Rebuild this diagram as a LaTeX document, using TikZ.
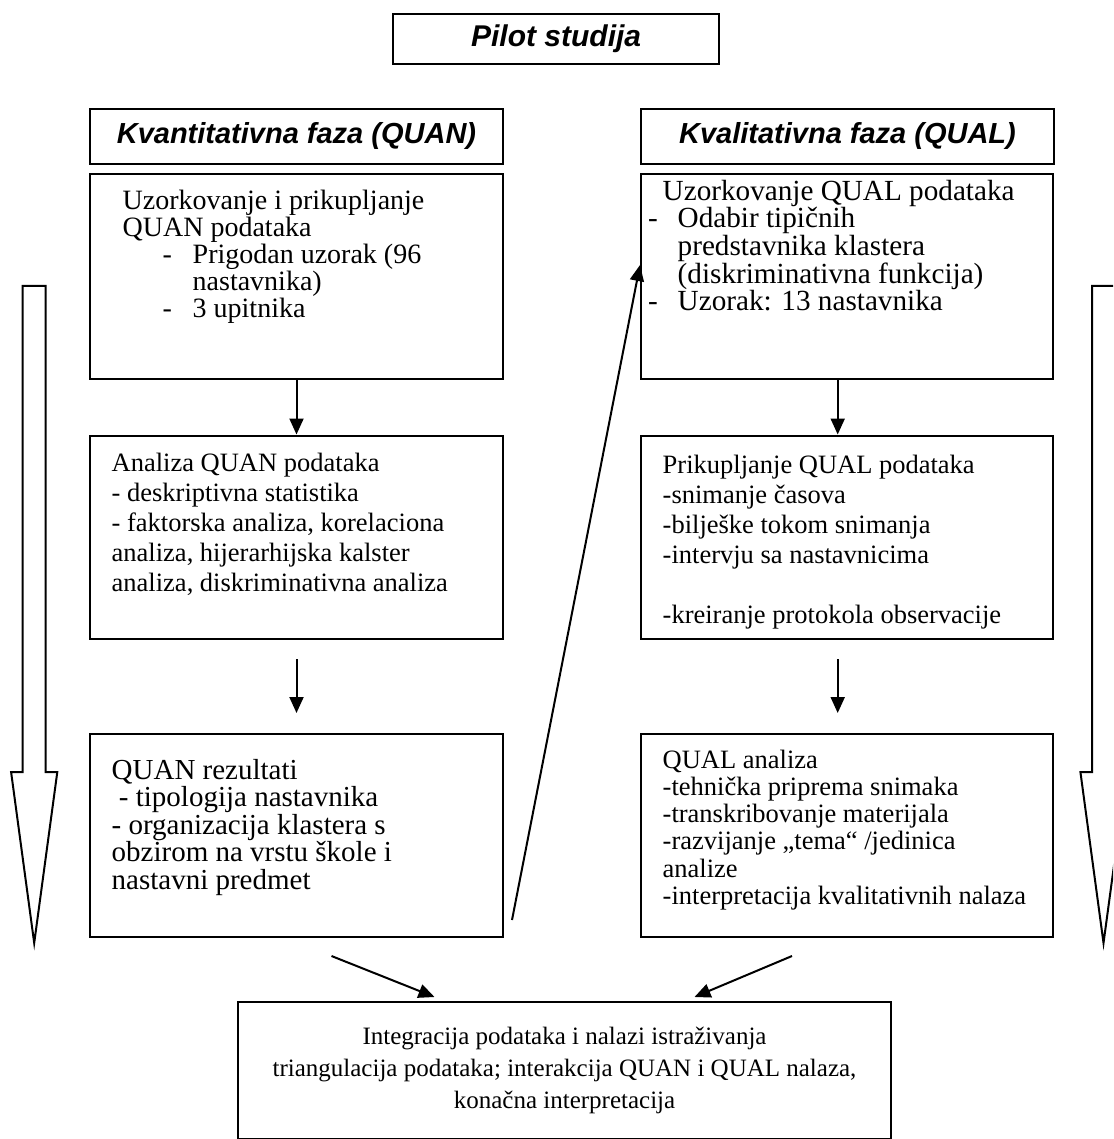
\documentclass[tikz,border=0pt]{standalone}
\usepackage{fontspec}
\setmainfont{Liberation Serif}
\newfontfamily\headfont{Liberation Sans}
\usetikzlibrary{arrows.meta}
\newcommand\ind[1]{\hspace*{#1pt}}
\newcommand\boxtext[6]{\parbox[t][#2pt][t]{#1pt}{\fontsize{#3}{#4}\selectfont\raggedright\parindent=0pt\rule{0pt}{#5pt}#6}}
\tikzset{
  box/.style={draw, line width=2pt, inner sep=0pt, anchor=north west},
  headbox/.style={draw, line width=2pt, inner sep=0pt, anchor=north west, minimum width=413pt, minimum height=55pt, font=\headfont\bfseries\itshape\fontsize{29}{32}\selectfont},
  arr/.style={line width=2pt, -{Triangle[length=16pt,width=14pt]}},
  bigarrow/.style={draw, line width=2pt, line join=miter},
}
\begin{document}
\begin{tikzpicture}[x=1pt,y=-1pt]
\useasboundingbox (0,0) rectangle (1113,1139);
\clip (0,0) rectangle (1113,1139);
\fill[white] (0,0) rectangle (1113,1139);

% title
\node[draw, line width=2.2pt, inner sep=0pt, anchor=north west, minimum width=326pt, minimum height=50pt, font=\headfont\bfseries\itshape\fontsize{30}{32}\selectfont] (pilot) at (392,12.7) {Pilot studija};

% headers
\node[headbox] (lh) at (89,108) {Kvantitativna faza (QUAN)};
\node[headbox] (rh) at (640,108) {Kvalitativna faza (QUAL)};

% row 1
\node[box] (l1) at (89,173) {\boxtext{413}{204.5}{28}{27}{35.3}{%
\ind{32.7}Uzorkovanje i prikupljanje\\
\ind{32.7}QUAN podataka\\
\ind{72.7}\makebox[30pt][l]{-}Prigodan uzorak (96\\
\ind{102.7}nastavnika)\\
\ind{72.7}\makebox[30pt][l]{-}3 upitnika}};
\node[box] (r1) at (640,173) {\boxtext{412}{204.5}{29.2}{26}{26.3}{%
\ind{21.7}Uzorkovanje QUAL podataka\\
\ind{7}\makebox[29.7pt][l]{-}Odabir tipičnih\\
\ind{36.7}predstavnika klastera\\
\ind{36.7}(diskriminativna funkcija)\\
\ind{7}\makebox[29.7pt][l]{-}Uzorak: 13 nastavnika}};

% row 2
\node[box] (l2) at (89,434.5) {\boxtext{413}{203.5}{26.5}{30}{35.5}{%
\ind{21.7}Analiza QUAN podataka\\
\ind{21.7}- deskriptivna statistika\\
\ind{21.7}- faktorska analiza, korelaciona\\
\ind{21.7}analiza, hijerarhijska kalster\\
\ind{21.7}analiza, diskriminativna analiza}};
\node[box] (r2) at (640,434.5) {\boxtext{412}{203.5}{26.5}{30}{37.5}{%
\ind{21.7}Prikupljanje QUAL podataka\\
\ind{21.7}-snimanje časova\\
\ind{21.7}-bilješke tokom snimanja\\
\ind{21.7}-intervju sa nastavnicima\\
\mbox{}\\
\ind{21.7}-kreiranje protokola observacije}};

% row 3
\node[box] (l3) at (89,733) {\boxtext{413}{203}{29}{27.5}{45}{%
\ind{21.7}QUAN rezultati\\
\ind{21.7}\ - tipologija nastavnika\\
\ind{21.7}- organizacija klastera s\\
\ind{21.7}obzirom na vrstu škole i\\
\ind{21.7}nastavni predmet}};
\node[box] (r3) at (640,733) {\boxtext{412}{203}{26.5}{27.3}{34}{%
\ind{21.7}QUAL analiza\\
\ind{21.7}-tehnička priprema snimaka\\
\ind{21.7}-transkribovanje materijala\\
\ind{21.7}-razvijanje „tema“ /jedinica\\
\ind{21.7}analize\\
\ind{21.7}-interpretacija kvalitativnih nalaza}};

% bottom
\node[box, minimum width=653pt, minimum height=137pt, align=center, font=\fontsize{25}{32}\selectfont] (fin) at (237,1001) {Integracija podataka i nalazi istraživanja\\ triangulacija podataka; interakcija QUAN i QUAL nalaza,\\ konačna interpretacija};

% connectors
\draw[arr] (l1.south) -- (l2.north);
\draw[arr] ([xshift=-9.3pt]r1.south) -- ([xshift=-9.3pt]r2.north);
\draw[arr] ([yshift=-19pt]l2.south) -- ([yshift=20pt]l3.north);
\draw[arr] ([xshift=-9.3pt,yshift=-19pt]r2.south) -- ([xshift=-9.3pt,yshift=20pt]r3.north);
\draw[arr] ([xshift=8pt,yshift=18pt]l3.south east) -- ([yshift=-92pt]r1.north west);
\draw[arr] ([xshift=35pt,yshift=-18pt]l3.south) -- ([xshift=-130pt,yshift=4pt]fin.north);
\draw[arr] ([xshift=-55pt,yshift=-18pt]r3.south) -- ([xshift=130pt,yshift=4pt]fin.north);

% big hollow arrows
\draw[bigarrow] (22.7,286) -- (45.7,286) -- (45.7,772) -- (57.3,772) -- (34.2,943) -- (11.1,772) -- (22.7,772) -- cycle;
\draw[bigarrow] (1092,286) -- (1115,286) -- (1115,772) -- (1126.6,772) -- (1103.5,943) -- (1080.4,772) -- (1092,772) -- cycle;
\end{tikzpicture}
\end{document}
